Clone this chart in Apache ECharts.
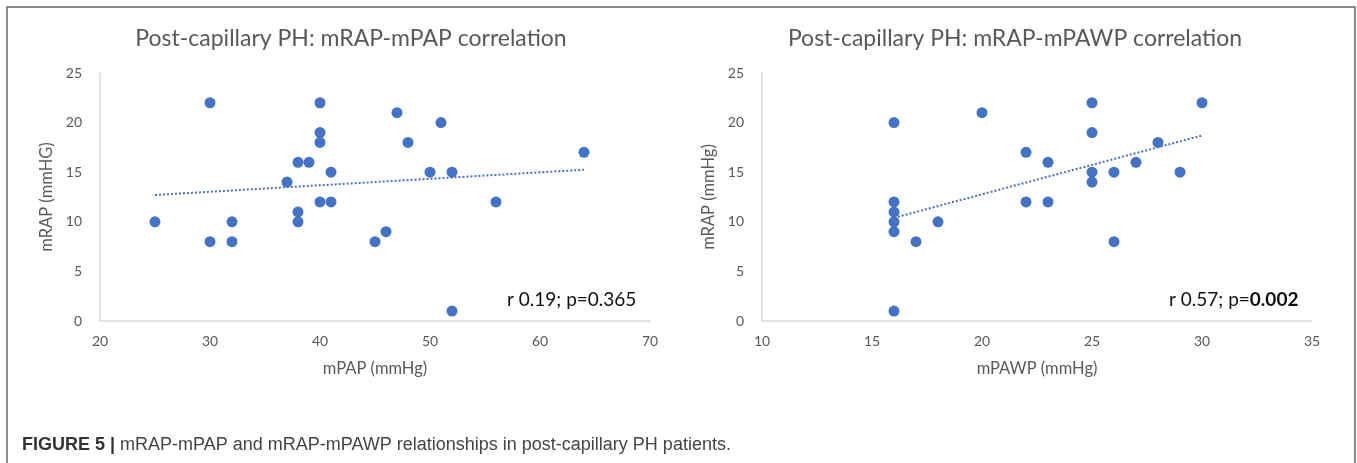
<!DOCTYPE html>
<html>
<head>
<meta charset="utf-8">
<script src="https://cdn.jsdelivr.net/npm/echarts@6/dist/echarts.min.js"></script>
<style>
html,body{margin:0;padding:0;background:#fff;}
#chart{width:1357px;height:463px;}
</style>
</head>
<body>
<div id="chart"></div>
<script>
// Left panel: mPAP (x) vs mRAP (y)
const mpapX = [25,30,30,32,32,37,38,39,38,38,40,40,40,40,41,41,45,46,47,51,48,50,52,64,56,52];
const mrapLeftY = [10,22,8,10,8,14,16,16,11,10,22,19,18,12,15,12,8,9,21,20,18,15,15,17,12,1];
// Right panel: mPAWP (x) vs mRAP (y)
const mpawpX = [16,20,22,22,16,16,16,16,17,18,16,23,23,25,25,25,25,26,26,27,28,29,30];
const mrapRightY = [20,21,17,12,12,11,10,9,8,10,1,16,12,22,19,15,14,15,8,16,18,15,22];
// Trendline endpoints
const trendLeftX = [25,64];
const trendLeftY = [12.7,15.25];
const trendRightX = [16,30];
const trendRightY = [10.4,18.7];
// Tick settings
const leftXTicks = [20,70,10];
const rightXTicks = [10,35,5];
const yTicks = [0,25,5];
const titles = ['Post-capillary PH: mRAP-mPAP correlation','Post-capillary PH: mRAP-mPAWP correlation'];
const xNames = ['mPAP (mmHg)','mPAWP (mmHg)'];
const yNames = ['mRAP (mmHG)','mRAP (mmHg)'];

const zip = (a,b) => a.map((v,i)=>[v,b[i]]);
const blue = '#4472C4';
const F = 'Lato, "Open Sans", sans-serif';
const CF = '"Liberation Sans", Arial, sans-serif';
const axisTxt = {color:'#595959', fontSize:14, fontFamily:F};

function xAxis(idx, t){
  return {type:'value', gridIndex:idx, min:t[0], max:t[1], interval:t[2],
    name:xNames[idx], nameLocation:'middle', nameGap:39,
    nameTextStyle:{color:'#595959', fontSize:16.5, fontFamily:F},
    axisLine:{show:true, lineStyle:{color:'#d9d9d9', width:1.5}},
    axisTick:{show:false}, splitLine:{show:false},
    axisLabel:Object.assign({margin:13}, axisTxt)};
}
function yAxis(idx){
  return {type:'value', gridIndex:idx, min:yTicks[0], max:yTicks[1], interval:yTicks[2],
    name:yNames[idx], nameLocation:'middle', nameGap:45,
    nameTextStyle:{color:'#595959', fontSize:16.5, fontFamily:F},
    axisLine:{show:true, onZero:false, lineStyle:{color:'#d9d9d9', width:1.5}},
    axisTick:{show:false}, splitLine:{show:false},
    axisLabel:Object.assign({margin:18}, axisTxt)};
}

const chart = echarts.init(document.getElementById('chart'), null, {renderer:'canvas'});
chart.setOption({
  backgroundColor:'#fff',
  animation:false,
  title:[
    {text:titles[0], left:346, top:22, textAlign:'center', textStyle:{color:'#595959', fontSize:23, fontWeight:'normal', fontFamily:F}},
    {text:titles[1], left:1010, top:22, textAlign:'center', textStyle:{color:'#595959', fontSize:23, fontWeight:'normal', fontFamily:F}},
    {text:'{a|r 0.19; p=0.365}', left:502, top:285, textStyle:{fontWeight:'normal', rich:{a:{color:'#111', fontSize:19, fontWeight:'normal', fontFamily:F}}}},
    {text:'{a|r 0.57; p=}{b|0.002}', left:1164, top:285, textStyle:{fontWeight:'normal', rich:{a:{color:'#111', fontSize:19, fontWeight:'normal', fontFamily:F}, b:{color:'#111', fontSize:19, fontWeight:'bold', fontFamily:F}}}},
    {text:'{a|FIGURE 5 |} {b|mRAP-mPAP and mRAP-mPAWP relationships in post-capillary PH patients.}', left:17, top:431,
      textStyle:{fontWeight:'normal', rich:{a:{color:'#333', fontSize:18, fontWeight:'bold', fontFamily:CF},
                       b:{color:'#444', fontSize:18, fontWeight:'normal', fontFamily:CF}}}}
  ],
  graphic:[
    {type:'rect', shape:{x:7, y:7, width:1348, height:480}, style:{fill:'none', stroke:'#666', lineWidth:1.5}, silent:true}
  ],
  grid:[
    {left:100, top:73, width:550, height:248},
    {left:762, top:73, width:550, height:248}
  ],
  xAxis:[xAxis(0,leftXTicks), xAxis(1,rightXTicks)],
  yAxis:[yAxis(0), yAxis(1)],
  series:[
    {type:'line', xAxisIndex:0, yAxisIndex:0, data:zip(trendLeftX,trendLeftY), symbol:'none',
      lineStyle:{color:blue, width:2, type:[2,2]}, z:1},
    {type:'scatter', xAxisIndex:0, yAxisIndex:0, data:zip(mpapX,mrapLeftY), symbolSize:11,
      itemStyle:{color:blue, opacity:1}, z:2},
    {type:'line', xAxisIndex:1, yAxisIndex:1, data:zip(trendRightX,trendRightY), symbol:'none',
      lineStyle:{color:blue, width:2, type:[2,2]}, z:1},
    {type:'scatter', xAxisIndex:1, yAxisIndex:1, data:zip(mpawpX,mrapRightY), symbolSize:11,
      itemStyle:{color:blue, opacity:1}, z:2}
  ]
});
</script>
</body>
</html>
